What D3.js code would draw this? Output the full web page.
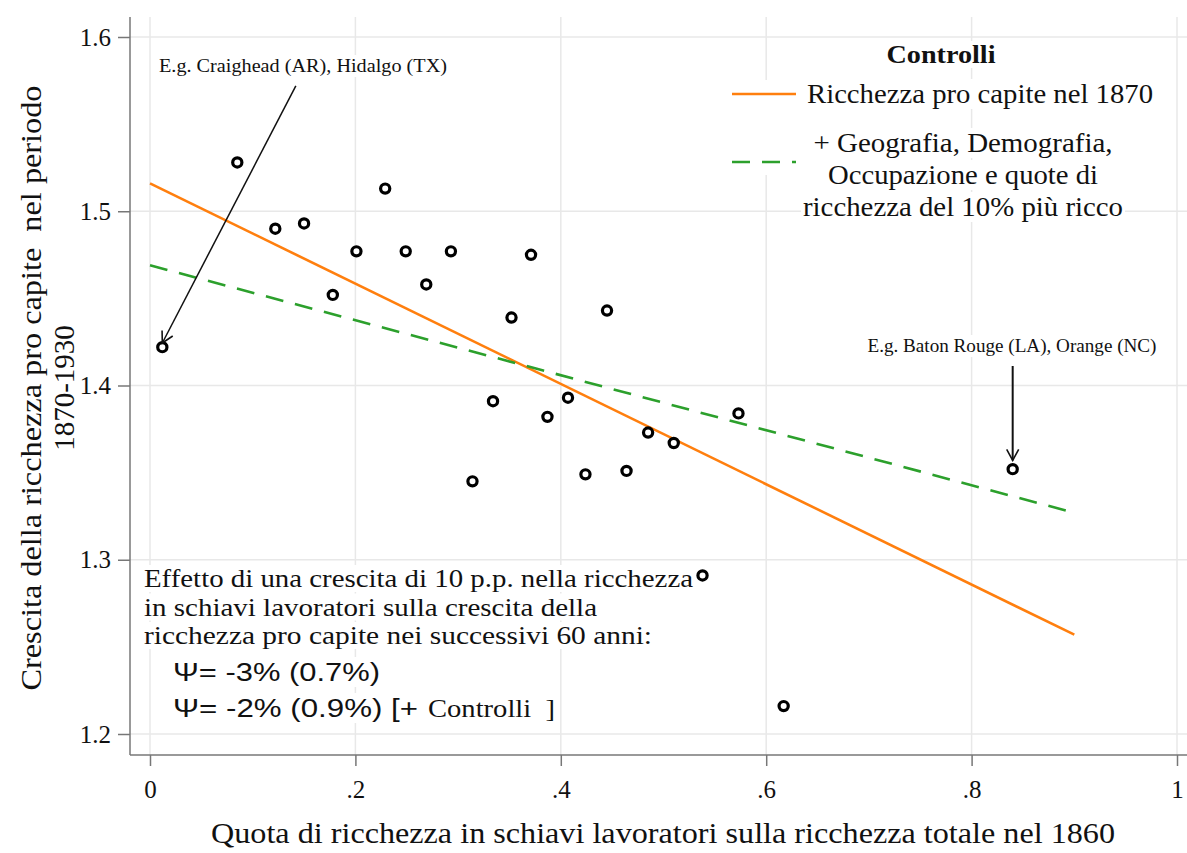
<!DOCTYPE html>
<html>
<head>
<meta charset="utf-8">
<script src="https://cdn.jsdelivr.net/npm/d3@7"></script>
<style>
  body { margin: 0; background: #fff; }
  text { font-family: "Liberation Serif", "Times New Roman", serif; fill: #111; }
</style>
</head>
<body>
<div id="chart"></div>
<script>
// ---- data ----
var shareX = [0.012, 0.085, 0.122, 0.150, 0.178, 0.201, 0.229, 0.249, 0.269, 0.293,
              0.314, 0.334, 0.352, 0.371, 0.387, 0.407, 0.424, 0.445, 0.464, 0.485,
              0.510, 0.538, 0.573, 0.617, 0.840];
var growthY = [1.422, 1.528, 1.490, 1.493, 1.452, 1.477, 1.513, 1.477, 1.458, 1.477,
               1.345, 1.391, 1.439, 1.475, 1.382, 1.393, 1.349, 1.443, 1.351, 1.373,
               1.367, 1.291, 1.384, 1.216, 1.352];
var fitX = [0, 0.9];
var fitBase = [1.516, 1.257];       // Ricchezza pro capite nel 1870
var fitControls = [1.469, 1.327];   // + Geografia, Demografia, ...
var xTicks = [0, 0.2, 0.4, 0.6, 0.8, 1];
var yTicks = [1.2, 1.3, 1.4, 1.5, 1.6];

var width = 1187, height = 853;
var orange = "#ff7f0e", green = "#2ca02c";

var x = d3.scaleLinear().domain([0, 1]).range([150, 1177]);
var y = d3.scaleLinear().domain([1.2, 1.6]).range([734, 37]);
var axisX0 = 130, axisY0 = 755;

var svg = d3.select("#chart").append("svg")
    .attr("width", width)
    .attr("height", height);

svg.append("defs").append("marker")
    .attr("id", "arr")
    .attr("markerUnits", "userSpaceOnUse")
    .attr("markerWidth", 14).attr("markerHeight", 14)
    .attr("viewBox", "0 0 14 14")
    .attr("refX", 12).attr("refY", 7)
    .attr("orient", "auto")
  .append("path")
    .attr("d", "M1,1 L12,7 L1,13")
    .attr("fill", "none")
    .attr("stroke", "#111")
    .attr("stroke-width", 1.6);

// gridlines
var grid = svg.append("g");
grid.selectAll(".gx").data(xTicks).enter().append("line")
    .attr("x1", function(d) { return x(d); }).attr("x2", function(d) { return x(d); })
    .attr("y1", 17).attr("y2", axisY0)
    .attr("stroke", "#e8e8e8").attr("stroke-width", 1.5);
grid.selectAll(".gy").data(yTicks).enter().append("line")
    .attr("y1", function(d) { return y(d); }).attr("y2", function(d) { return y(d); })
    .attr("x1", axisX0).attr("x2", width)
    .attr("stroke", "#e8e8e8").attr("stroke-width", 1.5);

// text with white backing (covers gridlines like in the original)
var backs = svg.append("g");
var texts = svg.append("g");
function label(px, py, str, size, opts) {
  opts = opts || {};
  var t = texts.append("text")
      .attr("x", px).attr("y", py)
      .style("font-size", size + "px")
      .attr("text-anchor", opts.anchor || "start")
      .text(str);
  if (opts.len) t.attr("textLength", opts.len).attr("lengthAdjust", "spacingAndGlyphs");
  if (opts.bold) t.style("font-weight", "bold");
  if (opts.sans) t.style("font-family", "'Liberation Sans', Arial, sans-serif");
  if (opts.back) {
    var b = t.node().getBBox();
    backs.append("rect").attr("x", b.x - 2).attr("y", b.y).attr("width", b.width + 4)
        .attr("height", b.height).attr("fill", "#fff");
  }
  return t;
}

// axes
var yAxis = d3.axisLeft(y).tickValues(yTicks).tickSize(12).tickPadding(7)
    .tickFormat(d3.format(".1f"));
var xAxis = d3.axisBottom(x).tickValues(xTicks).tickSize(11).tickPadding(14)
    .tickFormat(function(d) { return (d === 0 || d === 1) ? String(d) : d3.format(".1f")(d).replace(/^0/, ""); });

var gy = svg.append("g").attr("transform", "translate(" + axisX0 + ",0)").call(yAxis);
var gx = svg.append("g").attr("transform", "translate(0," + axisY0 + ")").call(xAxis);
[gy, gx].forEach(function(g) {
  g.select(".domain").remove();
  g.selectAll(".tick line").attr("stroke", "#777").attr("stroke-width", 1.5);
  g.selectAll(".tick text").style("font-size", "25px")
      .style("font-family", "'Liberation Serif', 'Times New Roman', serif").attr("fill", "#111");
});
svg.append("line").attr("x1", axisX0).attr("x2", axisX0).attr("y1", 17).attr("y2", axisY0)
    .attr("stroke", "#777").attr("stroke-width", 1.5);
svg.append("line").attr("x1", axisX0).attr("x2", width).attr("y1", axisY0).attr("y2", axisY0)
    .attr("stroke", "#777").attr("stroke-width", 1.5);

// axis titles
texts.append("text")
    .attr("x", 663).attr("y", 843)
    .attr("text-anchor", "middle")
    .style("font-size", "29px")
    .attr("textLength", 904).attr("lengthAdjust", "spacingAndGlyphs")
    .text("Quota di ricchezza in schiavi lavoratori sulla ricchezza totale nel 1860");
var yt = texts.append("text")
    .attr("transform", "translate(41,388) rotate(-90)")
    .attr("text-anchor", "middle")
    .style("font-size", "29px");
yt.append("tspan").attr("x", 0).attr("y", 0)
    .attr("textLength", 605).attr("lengthAdjust", "spacingAndGlyphs")
    .text("Crescita della ricchezza pro capite\u00a0 nel periodo");
yt.append("tspan").attr("x", 0).attr("y", 33).text("1870-1930");

// fitted lines
var line = d3.line()
    .x(function(d) { return x(d[0]); })
    .y(function(d) { return y(d[1]); });
svg.append("path")
    .datum(fitX.map(function(v, i) { return [v, fitBase[i]]; }))
    .attr("d", line).attr("fill", "none")
    .attr("stroke", orange).attr("stroke-width", 2.6);
svg.append("path")
    .datum(fitX.map(function(v, i) { return [v, fitControls[i]]; }))
    .attr("d", line).attr("fill", "none")
    .attr("stroke", green).attr("stroke-width", 2.6)
    .attr("stroke-dasharray", "18,12");

// effect box (drawn before points so the point at .54 stays on top)
var effY = 587, lh = 28.5;
label(144, effY, "Effetto di una crescita di 10 p.p. nella ricchezza", 25, {back: true, len: 549});
label(144, effY + lh, "in schiavi lavoratori sulla crescita della", 25, {back: true, len: 453});
label(144, effY + 2 * lh, "ricchezza pro capite nei successivi 60 anni:", 25, {back: true, len: 508});
label(173, 681, "\u03a8= -3% (0.7%)", 26, {sans: true, back: true, len: 207});
label(173, 717, "\u03a8= -2% (0.9%) [+", 26, {sans: true, back: true, len: 245});
label(428, 717, "Controlli\u00a0 ]", 25, {back: true, len: 127});

// scatter points
svg.append("g").selectAll("circle")
    .data(shareX)
    .enter().append("circle")
    .attr("cx", function(d) { return x(d); })
    .attr("cy", function(d, i) { return y(growthY[i]); })
    .attr("r", 4.6)
    .attr("fill", "#fff")
    .attr("stroke", "#000")
    .attr("stroke-width", 3.2);

// arrows to example counties
svg.append("line")
    .attr("x1", x(0.142)).attr("y1", y(1.572))
    .attr("x2", x(0.012)).attr("y2", y(1.4244))
    .attr("stroke", "#111").attr("stroke-width", 1.5).attr("marker-end", "url(#arr)");
label(159, 72, "E.g. Craighead (AR), Hidalgo (TX)", 19, {back: true, len: 288});
svg.append("line")
    .attr("x1", x(0.840)).attr("y1", y(1.4112))
    .attr("x2", x(0.840)).attr("y2", y(1.357))
    .attr("stroke", "#111").attr("stroke-width", 2).attr("marker-end", "url(#arr)");
label(1012, 352, "E.g. Baton Rouge (LA), Orange (NC)", 19, {anchor: "middle", back: true, len: 289});

// legend
backs.append("rect").attr("x", 726).attr("y", 80).attr("width", 76).attr("height", 95).attr("fill", "#fff");
label(941, 63, "Controlli", 25, {anchor: "middle", bold: true, back: true, len: 109});
svg.append("line").attr("x1", 732).attr("x2", 796).attr("y1", 94).attr("y2", 94)
    .attr("stroke", orange).attr("stroke-width", 2.6);
label(807, 103, "Ricchezza pro capite nel 1870", 27, {back: true, len: 346});
svg.append("line").attr("x1", 732).attr("x2", 796).attr("y1", 162).attr("y2", 162)
    .attr("stroke", green).attr("stroke-width", 2.6).attr("stroke-dasharray", "18,12");
label(963, 152, "+ Geografia, Demografia,", 27, {anchor: "middle", back: true, len: 299});
label(963, 184, "Occupazione e quote di", 27, {anchor: "middle", back: true, len: 270});
label(963, 216, "ricchezza del 10% pi\u00f9 ricco", 27, {anchor: "middle", back: true, len: 320});
</script>
</body>
</html>
